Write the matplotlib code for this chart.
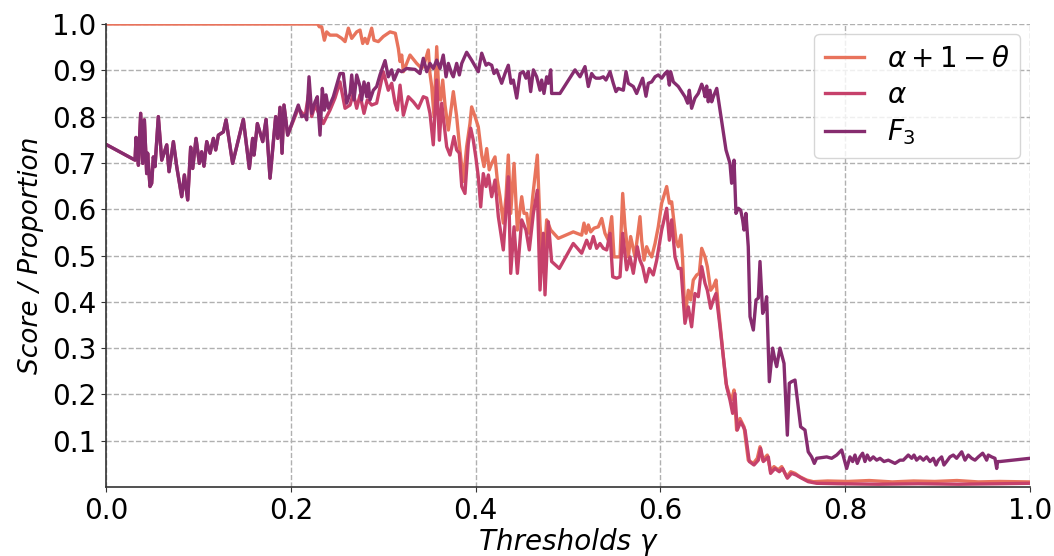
import matplotlib
matplotlib.use('Agg')
import matplotlib.pyplot as plt

# Low thresholds: alpha and F3 coincide here
x_low = [0.0, 0.0314, 0.0325, 0.035, 0.0375, 0.0397, 0.0415, 0.044, 0.045, 0.0476,
         0.0494, 0.0512, 0.053, 0.0566, 0.0603, 0.0657, 0.0682, 0.0729, 0.0765, 0.0819,
         0.0848, 0.0884, 0.0916, 0.0938, 0.0974, 0.101, 0.1035, 0.106, 0.109, 0.1126,
         0.1162, 0.1187, 0.1216, 0.127, 0.1299, 0.137, 0.1486, 0.1551, 0.1587, 0.1602,
         0.1638, 0.1696, 0.1732, 0.1775, 0.1836, 0.1858, 0.1883, 0.1905, 0.1926, 0.1966]
y_low = [0.740, 0.706, 0.755, 0.695, 0.807, 0.699, 0.793, 0.677, 0.721, 0.649,
         0.656, 0.713, 0.692, 0.800, 0.706, 0.739, 0.681, 0.746, 0.692, 0.627,
         0.674, 0.620, 0.734, 0.688, 0.753, 0.699, 0.724, 0.693, 0.746, 0.721,
         0.753, 0.728, 0.760, 0.767, 0.793, 0.699, 0.794, 0.688, 0.753, 0.717,
         0.785, 0.746, 0.794, 0.667, 0.800, 0.753, 0.820, 0.721, 0.825, 0.760]

# F3 above 0.2
x_f3_hi = [0.2081, 0.2118, 0.2154, 0.2172, 0.2197, 0.2226, 0.2262, 0.2287, 0.2316, 0.2341,
           0.2363, 0.2381, 0.2406, 0.246, 0.2532, 0.2568, 0.2605, 0.2641, 0.2659, 0.2684,
           0.2713, 0.2749, 0.2767, 0.2792, 0.2821, 0.2839, 0.2857, 0.2893, 0.2929, 0.2965,
           0.302, 0.3055, 0.3092, 0.3117, 0.3164, 0.32, 0.3254, 0.3344, 0.3398, 0.3434,
           0.3471, 0.3506, 0.3542, 0.3579, 0.3615, 0.365, 0.368, 0.3705, 0.3741, 0.3759,
           0.3795, 0.3824, 0.385, 0.3903, 0.3957, 0.4029, 0.4066, 0.4113, 0.4138, 0.4174,
           0.4199, 0.4228, 0.4282, 0.4318, 0.4354, 0.4383, 0.4408, 0.4445, 0.4481, 0.4516,
           0.4545, 0.457, 0.4596, 0.4625, 0.4661, 0.4697, 0.4715, 0.474, 0.4769, 0.4787,
           0.4813, 0.4823, 0.4913, 0.5076, 0.513, 0.5184, 0.522, 0.5256, 0.5281, 0.5303,
           0.5346, 0.5382, 0.5411, 0.5455, 0.549, 0.5519, 0.5544, 0.5599, 0.5628, 0.5653,
           0.5707, 0.5743, 0.5779, 0.5808, 0.5844, 0.5869, 0.5906, 0.5942, 0.5977, 0.6014,
           0.605, 0.6075, 0.6097, 0.6111, 0.614, 0.6194, 0.6266, 0.6295, 0.6313, 0.6338,
           0.6374, 0.641, 0.6447, 0.6464, 0.6483, 0.6501, 0.6518, 0.6537, 0.6555, 0.6573,
           0.661, 0.6645, 0.671, 0.6753, 0.6771, 0.6797, 0.6818, 0.6843, 0.6869, 0.689,
           0.6905, 0.6926, 0.6951, 0.697, 0.7006, 0.7035, 0.706, 0.7078, 0.7107, 0.7132,
           0.715, 0.7179, 0.7215, 0.724, 0.7258, 0.7294, 0.7338, 0.7374, 0.7395, 0.742,
           0.7457, 0.7518, 0.7565, 0.76, 0.7637, 0.7666, 0.7691, 0.78, 0.7854, 0.7908,
           0.7962, 0.8016, 0.8052, 0.8081, 0.8106, 0.8131, 0.816, 0.8189, 0.8214, 0.8239,
           0.8268, 0.8304, 0.8341, 0.8377, 0.842, 0.8467, 0.8539, 0.8593, 0.8629, 0.8683,
           0.872, 0.8745, 0.8773, 0.881, 0.8846, 0.8882, 0.8918, 0.8954, 0.8983, 0.9008,
           0.9044, 0.9069, 0.9098, 0.9134, 0.917, 0.9206, 0.9261, 0.9297, 0.9332, 0.9369,
           0.9405, 0.9441, 0.9488, 0.9513, 0.9531, 0.9549, 0.9585, 0.9621, 0.964, 0.965,
           0.9675, 1.0]
y_f3_hi = [0.825, 0.800, 0.803, 0.793, 0.886, 0.807, 0.832, 0.843, 0.760, 0.861,
           0.814, 0.847, 0.818, 0.843, 0.893, 0.893, 0.829, 0.850, 0.890, 0.836,
           0.890, 0.865, 0.836, 0.875, 0.843, 0.872, 0.836, 0.857, 0.865, 0.890,
           0.921, 0.886, 0.901, 0.879, 0.901, 0.897, 0.904, 0.902, 0.893, 0.926,
           0.897, 0.915, 0.904, 0.922, 0.904, 0.933, 0.886, 0.915, 0.893, 0.886,
           0.915, 0.890, 0.915, 0.939, 0.922, 0.897, 0.937, 0.911, 0.915, 0.911,
           0.893, 0.901, 0.872, 0.893, 0.911, 0.872, 0.879, 0.840, 0.893, 0.897,
           0.883, 0.897, 0.854, 0.901, 0.886, 0.857, 0.879, 0.850, 0.886, 0.872,
           0.901, 0.850, 0.850, 0.901, 0.886, 0.908, 0.865, 0.893, 0.886, 0.883,
           0.883, 0.886, 0.879, 0.897, 0.872, 0.854, 0.861, 0.857, 0.897, 0.872,
           0.865, 0.850, 0.868, 0.883, 0.844, 0.872, 0.875, 0.886, 0.890, 0.883,
           0.893, 0.898, 0.868, 0.897, 0.875, 0.865, 0.843, 0.829, 0.857, 0.818,
           0.840, 0.850, 0.870, 0.861, 0.843, 0.866, 0.832, 0.857, 0.832, 0.843,
           0.861, 0.814, 0.728, 0.699, 0.656, 0.706, 0.591, 0.602, 0.598, 0.577,
           0.555, 0.591, 0.519, 0.368, 0.339, 0.404, 0.408, 0.487, 0.375, 0.389,
           0.411, 0.2275, 0.300, 0.274, 0.260, 0.300, 0.267, 0.112, 0.224, 0.2275,
           0.231, 0.130, 0.123, 0.076, 0.065, 0.051, 0.062, 0.065, 0.062, 0.069,
           0.080, 0.040, 0.065, 0.055, 0.069, 0.051, 0.065, 0.073, 0.055, 0.069,
           0.058, 0.065, 0.058, 0.062, 0.055, 0.058, 0.051, 0.058, 0.058, 0.069,
           0.062, 0.069, 0.058, 0.065, 0.058, 0.065, 0.055, 0.062, 0.0475, 0.058,
           0.065, 0.0475, 0.055, 0.065, 0.069, 0.062, 0.076, 0.058, 0.069, 0.062,
           0.058, 0.065, 0.073, 0.065, 0.058, 0.069, 0.065, 0.062, 0.040, 0.055,
           0.055, 0.062]

# alpha above 0.2
x_alpha_hi = [0.2081, 0.2154, 0.2197, 0.2226, 0.2262, 0.2334, 0.2352, 0.2388, 0.2424, 0.2478,
              0.2532, 0.2587, 0.2641, 0.2677, 0.2713, 0.2749, 0.2792, 0.2828, 0.2875, 0.2929,
              0.3001, 0.3055, 0.3092, 0.3128, 0.3153, 0.3182, 0.3218, 0.3272, 0.3326, 0.338,
              0.3434, 0.3471, 0.3506, 0.3542, 0.3579, 0.3608, 0.3633, 0.3687, 0.3723, 0.3766,
              0.3795, 0.3824, 0.385, 0.3885, 0.3921, 0.3947, 0.3975, 0.4004, 0.4029, 0.4055,
              0.4083, 0.4113, 0.4138, 0.4174, 0.421, 0.4246, 0.43, 0.4354, 0.438, 0.4416,
              0.4452, 0.4499, 0.4545, 0.4581, 0.4625, 0.4668, 0.4697, 0.4733, 0.4751, 0.4787,
              0.4823, 0.4906, 0.5057, 0.5148, 0.5202, 0.5238, 0.5274, 0.531, 0.5346, 0.5382,
              0.5419, 0.5455, 0.5484, 0.5527, 0.5563, 0.5592, 0.5635, 0.5671, 0.5707, 0.575,
              0.5779, 0.5808, 0.5844, 0.588, 0.5923, 0.596, 0.6014, 0.6068, 0.6097, 0.6122,
              0.6158, 0.6194, 0.6223, 0.6266, 0.6302, 0.6338, 0.6374, 0.641, 0.6447, 0.6483,
              0.6508, 0.6544, 0.6573, 0.6602, 0.6645, 0.6717, 0.6753, 0.6782, 0.6807, 0.6832,
              0.6869, 0.6916, 0.6962, 0.7013, 0.706, 0.7085, 0.7114, 0.7168, 0.7193, 0.724,
              0.7287, 0.7323, 0.7374, 0.742, 0.7468, 0.7529, 0.76, 0.7691, 0.792, 0.836,
              0.879, 0.923, 0.9675, 1.0]
y_alpha_hi = [0.818, 0.800, 0.855, 0.800, 0.825, 0.793, 0.785, 0.800, 0.814, 0.840,
              0.875, 0.818, 0.825, 0.850, 0.818, 0.847, 0.807, 0.836, 0.825, 0.829,
              0.897, 0.857, 0.872, 0.829, 0.814, 0.868, 0.803, 0.843, 0.832, 0.818,
              0.843, 0.840, 0.807, 0.739, 0.879, 0.749, 0.829, 0.735, 0.717, 0.757,
              0.728, 0.721, 0.649, 0.634, 0.742, 0.775, 0.749, 0.710, 0.670, 0.605,
              0.677, 0.649, 0.674, 0.627, 0.663, 0.584, 0.512, 0.670, 0.4615, 0.562,
              0.4615, 0.577, 0.555, 0.512, 0.591, 0.641, 0.4255, 0.548, 0.415, 0.573,
              0.487, 0.472, 0.526, 0.505, 0.533, 0.5155, 0.541, 0.5155, 0.526, 0.5155,
              0.512, 0.548, 0.454, 0.451, 0.454, 0.548, 0.469, 0.497, 0.4615, 0.519,
              0.490, 0.476, 0.443, 0.472, 0.458, 0.490, 0.555, 0.602, 0.533, 0.577,
              0.497, 0.472, 0.472, 0.3535, 0.389, 0.346, 0.418, 0.411, 0.476, 0.440,
              0.425, 0.386, 0.404, 0.418, 0.346, 0.2165, 0.188, 0.159, 0.202, 0.123,
              0.141, 0.123, 0.055, 0.0475, 0.058, 0.0835, 0.055, 0.065, 0.0295, 0.040,
              0.033, 0.040, 0.019, 0.0295, 0.026, 0.019, 0.0115, 0.008, 0.007, 0.006,
              0.007, 0.006, 0.007, 0.008]

# alpha + 1 - theta
x_score = [0.0, 0.229, 0.2309, 0.2334, 0.2363, 0.2388, 0.2424, 0.2497, 0.2551, 0.2587,
           0.2623, 0.2659, 0.2713, 0.2749, 0.2778, 0.2803, 0.2828, 0.2875, 0.29, 0.2947,
           0.3001, 0.3074, 0.3131, 0.3164, 0.3182, 0.32, 0.3218, 0.3254, 0.329, 0.3362,
           0.3417, 0.3452, 0.3488, 0.3506, 0.3525, 0.355, 0.3579, 0.3604, 0.3622, 0.3644,
           0.3669, 0.3705, 0.3759, 0.3795, 0.3824, 0.3846, 0.3867, 0.3903, 0.3939, 0.3957,
           0.3994, 0.4029, 0.4066, 0.4091, 0.412, 0.4148, 0.4174, 0.421, 0.4235, 0.4264,
           0.43, 0.4329, 0.4354, 0.438, 0.4416, 0.4452, 0.4499, 0.4524, 0.4553, 0.4581,
           0.4618, 0.4668, 0.4697, 0.4733, 0.4769, 0.4813, 0.4895, 0.5057, 0.5148, 0.5173,
           0.5195, 0.522, 0.5246, 0.5281, 0.5328, 0.5365, 0.54, 0.5436, 0.5473, 0.5498,
           0.5563, 0.5592, 0.5617, 0.5653, 0.5678, 0.5725, 0.5779, 0.5797, 0.5823, 0.5851,
           0.588, 0.5906, 0.5942, 0.5977, 0.6014, 0.6068, 0.6097, 0.6122, 0.614, 0.6169,
           0.6194, 0.6223, 0.6241, 0.6266, 0.6302, 0.6328, 0.6356, 0.6393, 0.6421, 0.6447,
           0.6483, 0.6508, 0.6544, 0.6573, 0.6602, 0.6627, 0.671, 0.6753, 0.6771, 0.6797,
           0.6825, 0.6861, 0.6905, 0.6951, 0.7006, 0.7049, 0.7078, 0.7107, 0.7157, 0.7193,
           0.7229, 0.7276, 0.7313, 0.7367, 0.741, 0.7457, 0.7511, 0.7583, 0.7655, 0.781,
           0.803, 0.826, 0.851, 0.874, 0.897, 0.921, 0.944, 0.9675, 1.0]
y_score = [1.0, 1.0, 0.994, 0.994, 0.965, 0.983, 0.976, 0.976, 0.969, 0.962,
           0.991, 0.969, 0.983, 0.987, 0.958, 0.969, 0.958, 0.991, 0.965, 0.962,
           0.973, 0.983, 0.980, 0.947, 0.919, 0.933, 0.897, 0.915, 0.933, 0.915,
           0.904, 0.919, 0.944, 0.893, 0.865, 0.800, 0.951, 0.843, 0.836, 0.879,
           0.825, 0.771, 0.854, 0.800, 0.740, 0.700, 0.660, 0.735, 0.785, 0.821,
           0.800, 0.778, 0.717, 0.692, 0.731, 0.685, 0.699, 0.713, 0.663, 0.627,
           0.570, 0.627, 0.717, 0.591, 0.699, 0.555, 0.627, 0.591, 0.591, 0.548,
           0.627, 0.717, 0.566, 0.465, 0.577, 0.555, 0.537, 0.551, 0.544, 0.570,
           0.548, 0.566, 0.551, 0.559, 0.562, 0.580, 0.548, 0.533, 0.584, 0.497,
           0.497, 0.634, 0.562, 0.497, 0.541, 0.497, 0.584, 0.533, 0.490, 0.519,
           0.505, 0.497, 0.526, 0.562, 0.613, 0.649, 0.613, 0.616, 0.584, 0.533,
           0.519, 0.544, 0.490, 0.364, 0.425, 0.404, 0.447, 0.458, 0.4615, 0.5155,
           0.497, 0.476, 0.425, 0.433, 0.447, 0.389, 0.224, 0.195, 0.188, 0.2095,
           0.123, 0.148, 0.130, 0.058, 0.051, 0.062, 0.087, 0.058, 0.069, 0.033,
           0.044, 0.037, 0.044, 0.022, 0.033, 0.0295, 0.022, 0.015, 0.0115, 0.013,
           0.012, 0.014, 0.011, 0.013, 0.012, 0.014, 0.011, 0.012, 0.011]

x_f3 = x_low + x_f3_hi
y_f3 = y_low + y_f3_hi
x_alpha = x_low + x_alpha_hi
y_alpha = y_low + y_alpha_hi

colors = ['#e8735c', '#c6416b', '#862c6f']

fig, ax = plt.subplots(figsize=(10.54, 5.56), dpi=100)
fig.subplots_adjust(left=0.1006, right=0.9772, top=0.9568, bottom=0.1241)

ax.plot(x_score, y_score, color=colors[0], lw=2.4, label=r'$\alpha + 1 - \theta$')
ax.plot(x_alpha, y_alpha, color=colors[1], lw=2.4, label=r'$\alpha$')
ax.plot(x_f3, y_f3, color=colors[2], lw=2.4, label=r'$F_3$')

ax.set_xlim(0, 1)
ax.set_ylim(0, 1)
ax.set_xticks([0.0, 0.2, 0.4, 0.6, 0.8, 1.0])
ax.set_yticks([0.1, 0.2, 0.3, 0.4, 0.5, 0.6, 0.7, 0.8, 0.9, 1.0])
ax.tick_params(labelsize=20, color='#333333')
ax.grid(True, linestyle='--', color='#b0b0b0', linewidth=1.0)
ax.set_axisbelow(True)

for side in ['top', 'right']:
    ax.spines[side].set_visible(False)
for side in ['left', 'bottom']:
    ax.spines[side].set_color('#333333')
    ax.spines[side].set_linewidth(1.2)

ax.set_xlabel('Thresholds γ', fontsize=20, fontstyle='italic', labelpad=2)
ax.set_ylabel('Score / Proportion', fontsize=19, fontstyle='italic', labelpad=6)

ax.legend(loc='upper right', fontsize=20, borderaxespad=0.35,
          handlelength=1.4, labelspacing=0.3)

plt.savefig('out.png', dpi=100)
